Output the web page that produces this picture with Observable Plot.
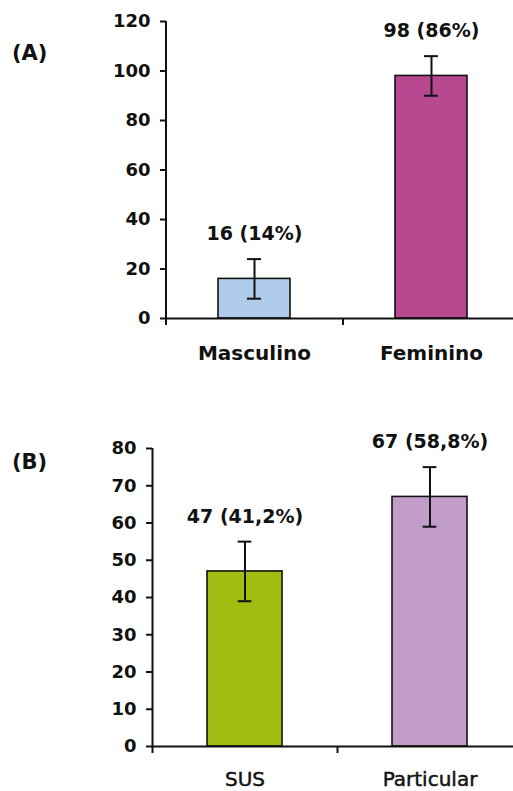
<!DOCTYPE html>
<html>
<head>
<meta charset="utf-8">
<script src="https://cdn.jsdelivr.net/npm/d3@7"></script>
<script src="https://cdn.jsdelivr.net/npm/@observablehq/plot@0.6"></script>
<style>
  body { margin: 0; background: #fff; }
  #wrap { position: relative; width: 513px; height: 791px; font-family: "DejaVu Sans", sans-serif; overflow: hidden; }
  .panel-label { position: absolute; left: 12px; font-weight: bold; font-size: 21px; color: #111; line-height: 24px; }
  .panel { position: absolute; left: 0; }
  svg { display: block; }
  #panelB g[aria-label="x-axis tick label"] text { stroke: #111; stroke-width: 0.45px; }
</style>
</head>
<body>
<div id="wrap">
  <div class="panel" id="panelA" style="top:0px"></div>
  <div class="panel" id="panelB" style="top:390px"></div>
  <div class="panel-label" style="top:41px">(A)</div>
  <div class="panel-label" style="top:450px">(B)</div>
</div>
<script>
// Panel A: sexo
const sexCategories = ["Masculino", "Feminino"];
const sexCounts = [16, 98];
const sexErrors = [8, 8];
const sexLabels = ["16 (14%)", "98 (86%)"];
const sexColors = ["#aecbe9", "#b8488f"];
const sexTicks = [0, 20, 40, 60, 80, 100, 120];

// Panel B: serviço
const serviceCategories = ["SUS", "Particular"];
const serviceCounts = [47, 67];
const serviceErrors = [8, 8];
const serviceLabels = ["47 (41,2%)", "67 (58,8%)"];
const serviceColors = ["#a0bd12", "#c39dc9"];
const serviceTicks = [0, 10, 20, 30, 40, 50, 60, 70, 80];

function makePanel(o) {
  const data = o.cats.map((c, i) => ({cat: c, value: o.vals[i], err: o.errs[i], label: o.labels[i]}));
  const paddingInner = 0.593, paddingOuter = paddingInner / 2;
  const step = (o.xRange[1] - o.xRange[0]) / o.cats.length;
  const bw = step * (1 - paddingInner);
  const capWidth = 14;
  const innerHeight = o.height - o.marginTop - o.marginBottom;
  const ink = "#111";
  return Plot.plot({
    width: 513,
    height: o.height,
    marginLeft: o.xRange[0],
    marginRight: 0,
    marginTop: o.marginTop,
    marginBottom: o.marginBottom,
    x: {domain: o.cats, range: o.xRange, paddingInner, paddingOuter, align: 0.5, axis: null},
    y: {domain: [0, o.yMax], axis: null},
    color: {domain: o.cats, range: o.colors},
    style: {fontFamily: "DejaVu Sans, sans-serif", color: ink, background: "transparent", overflow: "visible"},
    marks: [
      Plot.barY(data, {x: "cat", y: "value", fill: "cat", stroke: ink, strokeWidth: 1.6}),
      Plot.ruleX(data, {x: "cat", y1: d => d.value - d.err, y2: d => d.value + d.err, stroke: ink, strokeWidth: 2}),
      Plot.tickY(data, {x: "cat", y: d => d.value - d.err, insetLeft: (bw - capWidth) / 2, insetRight: (bw - capWidth) / 2, stroke: ink, strokeWidth: 2}),
      Plot.tickY(data, {x: "cat", y: d => d.value + d.err, insetLeft: (bw - capWidth) / 2, insetRight: (bw - capWidth) / 2, stroke: ink, strokeWidth: 2}),
      Plot.text(data, {x: "cat", y: d => d.value + d.err, dy: -25, text: "label", fontSize: 19, fontWeight: "bold", fill: ink}),
      Plot.ruleY([0], {stroke: ink, strokeWidth: 2}),
      Plot.ruleX(o.cats.slice(0, 1), {x: d => d, dx: -step / 2, insetBottom: -7, stroke: ink, strokeWidth: 2}),
      Plot.ruleX(o.cats.slice(1), {x: d => d, dx: -step / 2, insetTop: innerHeight, insetBottom: -7, stroke: ink, strokeWidth: 2}),
      Plot.axisY({ticks: o.ticks, tickSize: 6, tickPadding: 10, fontSize: 18, fontWeight: "bold", strokeWidth: 2, label: null, tickFormat: d => String(d)}),
      Plot.axisX({tickSize: 0, tickPadding: o.xPad, fontSize: o.xFontSize, fontWeight: o.xWeight, label: null})
    ]
  });
}

document.getElementById("panelA").append(makePanel({
  cats: sexCategories, vals: sexCounts, errs: sexErrors, labels: sexLabels, colors: sexColors,
  ticks: sexTicks, yMax: 120, xRange: [166, 520], height: 390, marginTop: 21, marginBottom: 72,
  xFontSize: 20, xWeight: "bold", xPad: 27
}));

document.getElementById("panelB").append(makePanel({
  cats: serviceCategories, vals: serviceCounts, errs: serviceErrors, labels: serviceLabels, colors: serviceColors,
  ticks: serviceTicks, yMax: 80, xRange: [152, 522], height: 401, marginTop: 58, marginBottom: 45,
  xFontSize: 20, xWeight: "normal", xPad: 25
}));
</script>
</body>
</html>
